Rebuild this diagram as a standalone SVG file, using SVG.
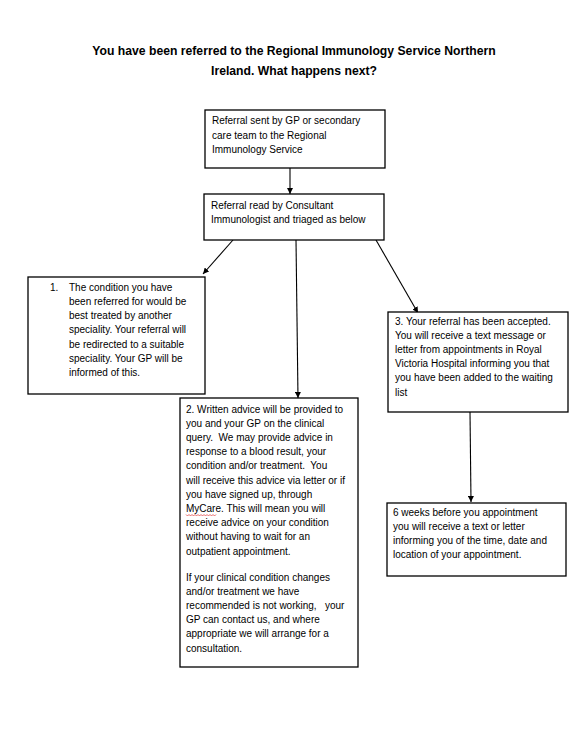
<svg xmlns="http://www.w3.org/2000/svg" width="587" height="751" viewBox="0 0 587 751">
<style>
.bg{fill:#ffffff}
.box{fill:#ffffff;stroke:#000000;stroke-width:1.3}
.t{font-family:"Liberation Sans",Arial,sans-serif;font-size:10px;fill:#000000;white-space:pre}
.title{font-family:"Liberation Sans",Arial,sans-serif;font-size:12.2px;font-weight:bold;fill:#000000;text-anchor:middle}
.conn{stroke:#000000;stroke-width:1.1;fill:none;marker-end:url(#ah)}
</style>
<defs>
<marker id="ah" viewBox="0 0 10 10" refX="10" refY="5" markerWidth="6" markerHeight="6" markerUnits="userSpaceOnUse" orient="auto">
<path d="M0,0 L10,5 L0,10 z" fill="#000000"/>
</marker>
</defs>
<rect class="bg" x="0" y="0" width="587" height="751"/>
<g id="title">
<text class="title" x="294" y="54.5">You have been referred to the Regional Immunology Service Northern</text>
<text class="title" x="294" y="74.5">Ireland. What happens next?</text>
</g>
<g id="connectors">
<line class="conn" x1="290" y1="168" x2="290" y2="194"/>
<line class="conn" x1="233" y1="240" x2="203" y2="274"/>
<line class="conn" x1="296" y1="240" x2="298" y2="398"/>
<line class="conn" x1="376" y1="240" x2="418" y2="313"/>
<line class="conn" x1="470" y1="412" x2="471" y2="502"/>
</g>
<g id="nodeA">
<rect class="box" x="205" y="110" width="180" height="58"/>
<text class="t" x="212" y="124">Referral sent by GP or secondary</text>
<text class="t" x="212" y="138.5">care team to the Regional</text>
<text class="t" x="212" y="153">Immunology Service</text>
</g>
<g id="nodeB">
<rect class="box" x="204" y="194" width="180" height="46"/>
<text class="t" x="211" y="209">Referral read by Consultant</text>
<text class="t" x="211" y="223">Immunologist and triaged as below</text>
</g>
<g id="node1">
<rect class="box" x="28" y="277" width="177" height="117"/>
<text class="t" x="50" y="290.5">1.</text>
<text class="t" x="69" y="290.5">The condition you have</text>
<text class="t" x="69" y="304.8">been referred for would be</text>
<text class="t" x="69" y="319.1">best treated by another</text>
<text class="t" x="69" y="333.4">speciality. Your referral will</text>
<text class="t" x="69" y="347.7">be redirected to a suitable</text>
<text class="t" x="69" y="362">speciality. Your GP will be</text>
<text class="t" x="69" y="376.3">informed of this.</text>
</g>
<g id="node2">
<rect class="box" x="180" y="398" width="178" height="269"/>
<text class="t" x="186" y="412.5">2. Written advice will be provided to</text>
<text class="t" x="186" y="426.7">you and your GP on the clinical</text>
<text class="t" x="186" y="440.9">query.  We may provide advice in</text>
<text class="t" x="186" y="455.1">response to a blood result, your</text>
<text class="t" x="186" y="469.3">condition and/or treatment.  You</text>
<text class="t" x="186" y="483.5">will receive this advice via letter or if</text>
<text class="t" x="186" y="497.7">you have signed up, through</text>
<text class="t" x="186" y="511.9">MyCare. This will mean you will</text>
<text class="t" x="186" y="526.1">receive advice on your condition</text>
<text class="t" x="186" y="540.3">without having to wait for an</text>
<text class="t" x="186" y="554.5">outpatient appointment.</text>
<text class="t" x="186" y="580.5">If your clinical condition changes</text>
<text class="t" x="186" y="594.7">and/or treatment we have</text>
<text class="t" x="186" y="608.9">recommended is not working,   your</text>
<text class="t" x="186" y="623.1">GP can contact us, and where</text>
<text class="t" x="186" y="637.3">appropriate we will arrange for a</text>
<text class="t" x="186" y="651.5">consultation.</text>
<path d="M186,514.5 l1.5,1.5 l1.5,-1.5 l1.5,1.5 l1.5,-1.5 l1.5,1.5 l1.5,-1.5 l1.5,1.5 l1.5,-1.5 l1.5,1.5 l1.5,-1.5 l1.5,1.5 l1.5,-1.5 l1.5,1.5 l1.5,-1.5 l1.5,1.5 l1.5,-1.5 l1.5,1.5 l1.5,-1.5 l1.5,1.5 l1.5,-1.5" fill="none" stroke="#e03030" stroke-width="0.7"/>
</g>
<g id="node3">
<rect class="box" x="388" y="312" width="180" height="100"/>
<text class="t" x="395" y="324.5">3. Your referral has been accepted.</text>
<text class="t" x="395" y="338.7">You will receive a text message or</text>
<text class="t" x="395" y="352.9">letter from appointments in Royal</text>
<text class="t" x="395" y="367.1">Victoria Hospital informing you that</text>
<text class="t" x="395" y="381.3">you have been added to the waiting</text>
<text class="t" x="395" y="395.5">list</text>
</g>
<g id="node4">
<rect class="box" x="387" y="503" width="179" height="73"/>
<text class="t" x="393" y="515.5">6 weeks before you appointment</text>
<text class="t" x="393" y="529.7">you will receive a text or letter</text>
<text class="t" x="393" y="543.9">informing you of the time, date and</text>
<text class="t" x="393" y="558.1">location of your appointment.</text>
</g>
</svg>
